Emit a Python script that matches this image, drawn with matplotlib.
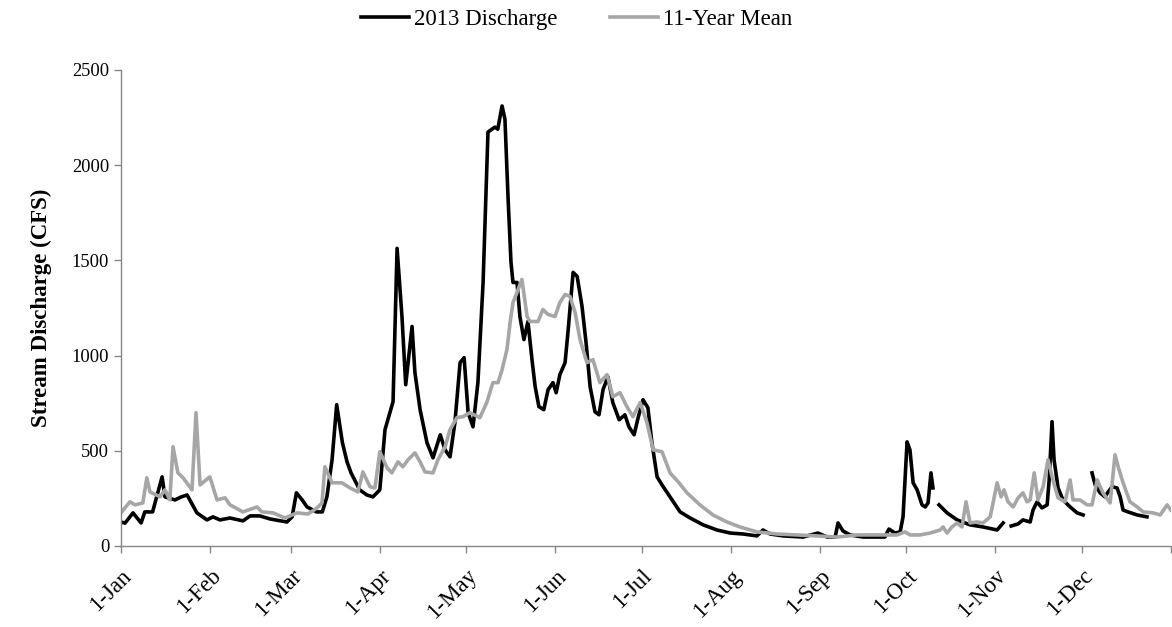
import numpy as np
import matplotlib
matplotlib.use('Agg')
import matplotlib.pyplot as plt

plt.rcParams['font.family'] = ['Liberation Serif', 'DejaVu Serif']

# 2013 daily discharge (day of year, CFS); NaN = missing record
q2013_day = [0, 1.4, 4.2, 7, 8.3, 11, 14.3, 15.3, 18.8, 21, 23, 26.4, 29.9, 32, 34.4, 37.9,
             42.4, 44.9, 48.3, 51.8, 57.7, 59.5, 61, 63, 64.7, 68, 70, 71.6, 73.4, 75, 77,
             78.6, 80, 83, 85.5, 87.6, 90, 91.8, 94.6, 96, 97.7, 99, 101.2, 102.2, 104, 106.4,
             108.5, 111, 112.7, 114.4, 116.1, 117.9, 119.3, 120.7, 122.4, 124.1, 125.9, 127.6,
             130, 131, 132.5, 133.5, 134.6, 135.6, 136.3, 137.7, 138.7, 140.1, 141.5, 142.9,
             144, 145.3, 147, 148.5, 150.2, 151.3, 152.6, 154.4, 155.4, 157.2, 158.6, 160.3,
             161.7, 163.1, 164.8, 166.2, 167.6, 169.3, 171, 173.2, 175.2, 176.6, 178.4, 179.8,
             181.5, 183.2, 184.6, 186.4, 188.1, 190.9, 194.4, 197.9, 202.4, 207.2, 211.8, 216.3,
             221.1, 223.2, 225.7, 230.2, 237.1, 242.3, 245.5, 248.3, 249.3, 251, 253.5, 258,
             262.9, 265.6, 267, 269.1, 270.9, 271.9, 273.3, 274.3, 275.4, 276.8, 278.5, 279.6,
             280.6, 281.6, 282.3, 283.3, 284.4, 287.2, 290.7, 295.2, 299.7, 304.6, 306.7, 308,
             309.5, 311.9, 313.6, 316.1, 317.1, 318.5, 320.2, 322, 322.7, 323.7, 324.4, 325.8,
             327.5, 330, 332.4, 334.5, 336, 337.6, 338.7, 340.4, 342.1, 343.2, 344.6, 346.3,
             347.4, 348.4, 350.1, 353.3, 356.7]
q2013 = [126, 120, 174, 121, 179, 179, 363, 258, 242, 258, 268, 174, 137, 153, 137, 147,
         132, 158, 158, 142, 126, 153, 279, 242, 205, 179, 179, 258, 453, 742, 542,
         442, 384, 295, 268, 258, 295, 611, 758, 1563, 1205, 847, 1153, 911, 716, 542,
         463, 584, 505, 468, 647, 963, 989, 700, 626, 858, 1384, 2174,
         2200, 2189, 2311, 2242, 1821, 1489, 1384, 1384, 1205, 1084, 1179, 979,
         837, 732, 716, 821, 858, 805, 900, 963, 1121, 1437, 1416, 1258,
         1068, 837, 705, 689, 821, 889, 753, 663, 689, 626, 584, 674,
         768, 726, 542, 363, 321, 258, 179, 147, 111, 84, 68, 63,
         53, 84, 63, 53, 47, 68, 47, 47, 121, 79, 58, 47,
         47, 47, 89, 68, 74, 153, 547, 505, 332, 295, 216, 205,
         226, 384, 305, np.nan, 216, 174, 137, 111, 100, 84, 121, np.nan,
         105, 116, 137, 126, 189, 232, 200, 216, 347, 653, 453, 305,
         242, 205, 174, 163, np.nan, 384, 321, 279, 258, 284, 311, 305,
         258, 189, 179, 163, 153]

# 11-year mean discharge (day of year, CFS)
mean_day = [0, 3.1, 4.9, 7.6, 9, 10.1, 13.6, 15.3, 17, 18.1, 19.8, 21.6, 24.7, 26.1, 27.5,
            30.9, 33.4, 36.2, 37.9, 42.4, 47.3, 49, 52.9, 57, 61.2, 65, 68.2, 69.9, 70.9,
            73.4, 76.8, 79.6, 82.4, 84.1, 86.6, 88.3, 90, 92.5, 94.2, 96.3, 98, 99.8, 102.2,
            104, 105.7, 108.5, 110.2, 112.7, 114.4, 116.8, 118.9, 121.3, 124.8, 127.3, 129.3,
            131.1, 132.5, 134.2, 135.3, 136.3, 137.7, 139.4, 141.2, 142.2, 145, 146.7, 148.5,
            150.9, 152.6, 154.4, 156.1, 157.9, 159.6, 162, 164.1, 166.5, 169, 171, 173.5,
            175.9, 178, 180.5, 182.9, 185, 188.1, 190.9, 194, 196.8, 201.3, 205.8, 210.7,
            215.2, 221.1, 228.1, 235, 242, 249, 255.9, 262.9, 269.8, 272.6, 274.3, 277.8,
            281.3, 284.8, 285.8, 287.2, 288.9, 290.7, 292.4, 293.8, 295.2, 297.6, 299.7, 302.2,
            303.2, 304.6, 306, 307, 308.4, 310.2, 311.9, 313.6, 315, 316.1, 317.5, 318.8,
            320.6, 322.3, 324, 325.8, 328.2, 330, 331, 333.4, 335.9, 337.6, 339.4, 341.4,
            343.9, 345.6, 346.7, 348.4, 350.8, 353.3, 355.4, 358.8, 361.3, 363.7, 365]
mean11 = [174, 232, 216, 226, 358, 284, 258, 295, 242, 521, 384, 358, 295, 700, 321,
          363, 242, 253, 216, 179, 205, 179, 174, 147, 174, 168, 200, 226, 416,
          332, 332, 305, 284, 389, 311, 305, 495, 411, 384, 442, 416, 453, 489,
          442, 389, 384, 453, 521, 611, 674, 679, 700, 674, 758, 858,
          858, 926, 1032, 1174, 1279, 1332, 1400, 1205, 1179, 1179, 1242, 1216,
          1205, 1279, 1321, 1311, 1226, 1084, 963, 979, 858, 900, 784, 805,
          732, 679, 753, 647, 505, 495, 384, 332, 279, 216, 163, 126,
          100, 74, 63, 58, 53, 47, 58, 58, 58, 74, 58, 58,
          68, 84, 100, 68, 100, 121, 100, 232, 121, 126, 121, 153,
          226, 332, 258, 295, 232, 205, 253, 279, 232, 242, 384, 242,
          311, 453, 347, 253, 232, 347, 242, 242, 216, 216, 347, 279,
          226, 479, 416, 332, 232, 205, 179, 174, 163, 216, 189]

month_start = [0, 31, 59, 90, 120, 151, 181, 212, 243, 273, 304, 334, 365]
month_labels = ['1-Jan', '1-Feb', '1-Mar', '1-Apr', '1-May', '1-Jun', '1-Jul',
                '1-Aug', '1-Sep', '1-Oct', '1-Nov', '1-Dec', '']

fig = plt.figure(figsize=(11.72, 6.27), dpi=100)
ax = fig.add_axes([0.1032, 0.1292, 0.8958, 0.7592])

ax.plot(q2013_day, q2013, color='black', linewidth=2.6, label='2013 Discharge',
        solid_joinstyle='round')
ax.plot(mean_day, mean11, color='#a6a6a6', linewidth=2.6, label='11-Year Mean',
        solid_joinstyle='round')

ax.set_xlim(0, 365)
ax.set_ylim(0, 2500)
ax.set_yticks([0, 500, 1000, 1500, 2000, 2500])
ax.set_xticks(month_start)
ax.set_xticklabels(month_labels, rotation=45, ha='right', rotation_mode='anchor',
                   fontsize=16.5)

for s in ['top', 'right']:
    ax.spines[s].set_visible(False)
for s in ['left', 'bottom']:
    ax.spines[s].set_color('#868686')
    ax.spines[s].set_linewidth(1.0)
ax.tick_params(axis='both', colors='#868686', labelcolor='black',
               length=5, width=1.0, direction='out')
ax.tick_params(axis='y', labelsize=13.3)
ax.tick_params(axis='x', pad=9)

ax.set_ylabel('Stream Discharge (CFS)', fontsize=16.5, fontweight='bold', labelpad=14)

fig.legend(loc='upper center', bbox_to_anchor=(0.492, 1.018), ncol=2, frameon=False,
           fontsize=16.5, handlelength=2.1, handletextpad=0.2, columnspacing=2.3)

fig.savefig('out.png', dpi=100)
